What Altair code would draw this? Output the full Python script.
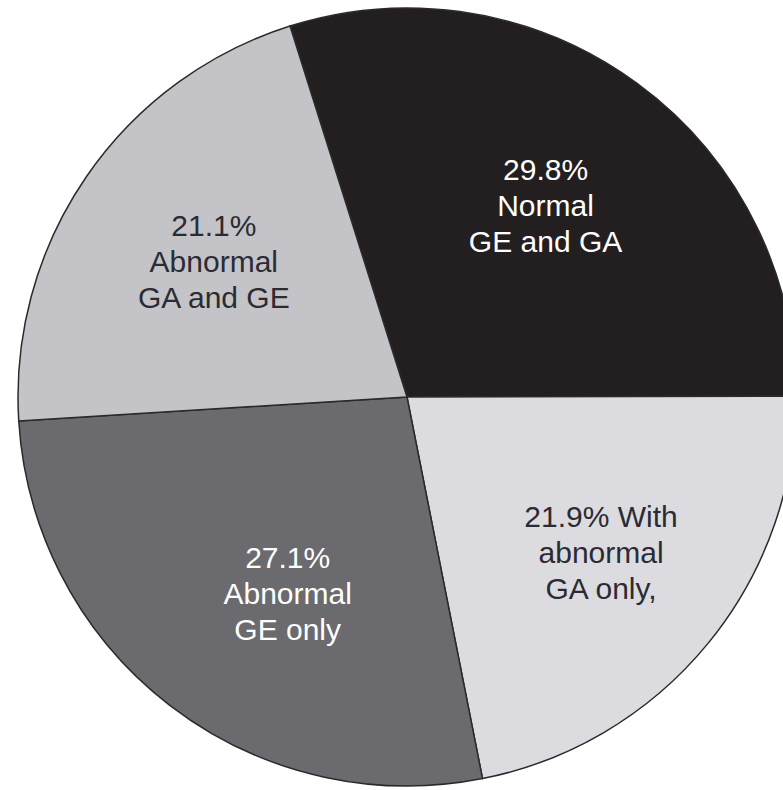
import math
import altair as alt
import pandas as pd

categories = ["Normal GE and GA", "With abnormal GA only", "Abnormal GE only", "Abnormal GA and GE"]
values = [29.8, 21.9, 27.1, 21.1]
labels = ["29.8%\nNormal\nGE and GA", "21.9% With\nabnormal\nGA only,", "27.1%\nAbnormal\nGE only", "21.1%\nAbnormal\nGA and GE"]
order = [0, 1, 2, 3]

fill_colors = ["#231f20", "#dcdce0", "#6b6a6e", "#c4c4c8"]
text_colors = ["#ffffff", "#2b2b33", "#ffffff", "#2b2b33"]

df = pd.DataFrame({"category": categories, "value": values, "label": labels, "order": order})

start = 2 * math.pi - math.radians(17.5)
theta_scale = alt.Scale(domain=[0, sum(values)], range=[start, start + 2 * math.pi], zero=True, nice=False)

pie = alt.Chart(df).mark_arc(outerRadius=389, stroke="#2a2a2a", strokeWidth=1.5).encode(
    theta=alt.Theta("value:Q", stack=True, scale=theta_scale),
    order=alt.Order("order:Q"),
    color=alt.Color("category:N", scale=alt.Scale(domain=categories, range=fill_colors), legend=None),
    x=alt.value(407),
    y=alt.value(397),
)

stacked = alt.Chart(df).transform_stack(
    stack="value", groupby=[], as_=["v0", "v1"], sort=[alt.SortField("order", order="ascending")]
).transform_calculate(mid="(datum.v0 + datum.v1) / 2")

# small per-slice nudges of the label block (layout only)
nudges = {categories[0]: (-2, -34), categories[1]: (10, -30), categories[2]: (26, -26), categories[3]: (3, -35)}

text_layers = []
for cat, (ddx, ddy) in nudges.items():
    t = stacked.transform_filter(alt.datum.category == cat).mark_text(
        radius=238, font="Liberation Sans", fontSize=30, lineBreak="\n", lineHeight=36,
        align="center", baseline="middle", dx=ddx, dy=ddy,
    ).encode(
        theta=alt.Theta("mid:Q", scale=theta_scale),
        text="label:N",
        color=alt.Color("category:N", scale=alt.Scale(domain=categories, range=text_colors), legend=None),
        x=alt.value(407),
        y=alt.value(397),
    )
    text_layers.append(t)

chart = alt.layer(pie, *text_layers).resolve_scale(color="independent").properties(
    width=783, height=790, autosize=alt.AutoSizeParams(type="none"), padding=0, background="white"
).configure_view(stroke=None)

chart.save("out.html", embed_options={"renderer": "svg", "actions": False})
